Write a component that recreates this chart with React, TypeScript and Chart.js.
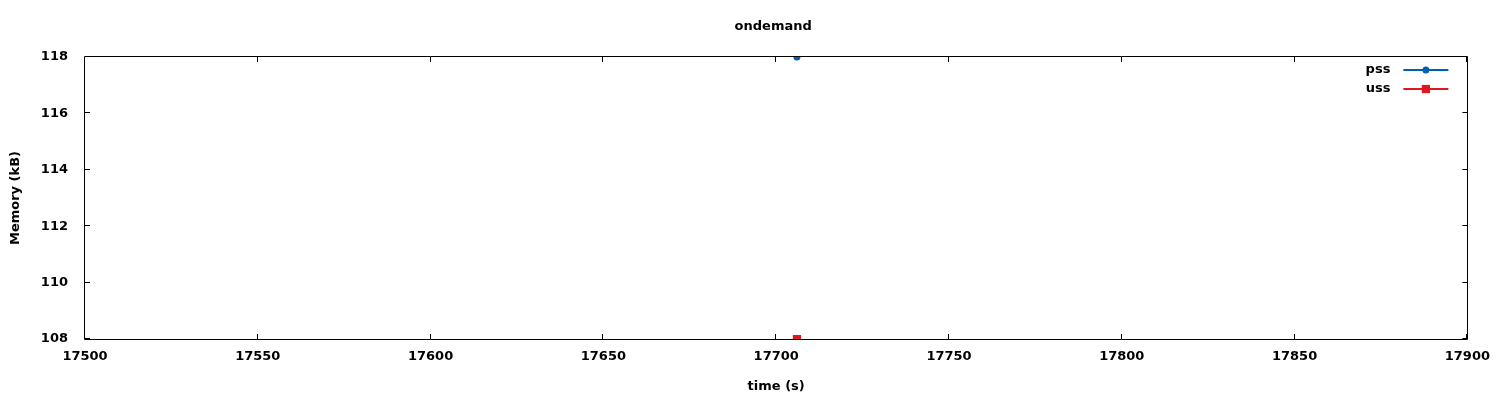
import React, { useEffect, useRef } from "react";
import { Chart, registerables } from "chart.js";

Chart.register(...registerables);

const chartTitle = "ondemand";
const xAxisTitle = "time (s)";
const yAxisTitle = "Memory (kB)";

const times = [17706];
const pssValues = [118];
const ussValues = [108];

const seriesLabels = ["pss", "uss"];
const seriesColors = ["#0060ad", "#dd181f"];
const seriesPointStyles = ["circle", "rect"];
const seriesPointRadius = [3.5, 5.8];

const xMin = 17500;
const xMax = 17900;
const xStep = 50;
const yMin = 108;
const yMax = 118;
const yStep = 2;

const FONT_FAMILY = "'DejaVu Sans', Verdana, sans-serif";
const FONT_SIZE = 13;

const framePlugin = {
  id: "gnuplotFrame",
  beforeDatasetsDraw(chart: any) {
    const { ctx, chartArea } = chart;
    const { left, right, top, bottom } = chartArea;
    const tick = 5;
    ctx.save();
    ctx.strokeStyle = "#000";
    ctx.lineWidth = 1;
    ctx.beginPath();
    ctx.rect(Math.round(left) - 0.5, Math.round(top) - 0.5, Math.round(right - left) + 1, Math.round(bottom - top) + 1);
    ctx.stroke();
    const xs = chart.scales.x;
    const ys = chart.scales.y;
    ctx.beginPath();
    xs.ticks.forEach((t: any) => {
      const px = Math.round(xs.getPixelForValue(t.value)) - 0.5;
      ctx.moveTo(px, bottom);
      ctx.lineTo(px, bottom - tick);
      ctx.moveTo(px, top);
      ctx.lineTo(px, top + tick);
    });
    ys.ticks.forEach((t: any) => {
      const py = Math.round(ys.getPixelForValue(t.value)) - 0.5;
      ctx.moveTo(left, py);
      ctx.lineTo(left + tick, py);
      ctx.moveTo(right, py);
      ctx.lineTo(right - tick, py);
    });
    ctx.stroke();
    ctx.restore();
  },
};

const titlePlugin = {
  id: "gnuplotTitle",
  afterDraw(chart: any) {
    const { ctx, chartArea } = chart;
    ctx.save();
    ctx.fillStyle = "#000";
    ctx.font = `bold ${FONT_SIZE}px ${FONT_FAMILY}`;
    ctx.textAlign = "center";
    ctx.textBaseline = "middle";
    ctx.fillText(chartTitle, (chartArea.left + chartArea.right) / 2 - 3, 27);
    ctx.restore();
  },
};

const legendPlugin = {
  id: "gnuplotLegend",
  afterDraw(chart: any) {
    const { ctx, chartArea } = chart;
    ctx.save();
    chart.data.datasets.forEach((ds: any, i: number) => {
      const y = Math.round(chartArea.top + 13 + i * 19);
      const textRight = chartArea.right - 77;
      const lineStart = chartArea.right - 64;
      const lineEnd = chartArea.right - 19;
      ctx.fillStyle = "#000";
      ctx.font = `bold ${FONT_SIZE}px ${FONT_FAMILY}`;
      ctx.textAlign = "right";
      ctx.textBaseline = "middle";
      ctx.fillText(ds.label, textRight, y);
      ctx.strokeStyle = ds.borderColor;
      ctx.lineWidth = 2;
      ctx.beginPath();
      ctx.moveTo(lineStart, y);
      ctx.lineTo(lineEnd, y);
      ctx.stroke();
      const cx = (lineStart + lineEnd) / 2;
      ctx.fillStyle = ds.backgroundColor;
      if (ds.pointStyle === "rect") {
        const s = ds.pointRadius * Math.SQRT1_2;
        ctx.fillRect(cx - s, y - s, 2 * s, 2 * s);
      } else {
        ctx.beginPath();
        ctx.arc(cx, y, ds.pointRadius, 0, Math.PI * 2);
        ctx.fill();
      }
    });
    ctx.restore();
  },
};

export default function App() {
  const canvasRef = useRef<HTMLCanvasElement | null>(null);

  useEffect(() => {
    document.body.style.margin = "0";
    const canvas = canvasRef.current;
    if (!canvas) return;
    const series = [pssValues, ussValues];
    const datasets = series.map((vals, i) => ({
      label: seriesLabels[i],
      data: times.map((t, j) => ({ x: t, y: vals[j] })),
      borderColor: seriesColors[i],
      backgroundColor: seriesColors[i],
      borderWidth: 2,
      pointStyle: seriesPointStyles[i],
      pointRadius: seriesPointRadius[i],
      pointBorderWidth: 0,
      showLine: true,
    }));
    const font = { family: FONT_FAMILY, size: FONT_SIZE, weight: "bold" as const };
    const chart = new Chart(canvas, {
      type: "line",
      data: { datasets },
      plugins: [framePlugin, titlePlugin, legendPlugin],
      options: {
        animation: false,
        responsive: false,
        devicePixelRatio: 1,
        layout: { padding: { left: 0, right: 32, top: 57, bottom: 0 } },
        plugins: {
          legend: { display: false },
          tooltip: { enabled: false },
          title: { display: false },
        },
        scales: {
          x: {
            type: "linear",
            min: xMin,
            max: xMax,
            grid: { display: false, drawTicks: false },
            border: { display: false },
            ticks: {
              stepSize: xStep,
              autoSkip: false,
              maxRotation: 0,
              color: "#000",
              font,
              padding: 10,
              callback: (v: any) => String(v),
            },
            title: {
              display: true,
              text: xAxisTitle,
              color: "#000",
              font,
              padding: { top: 0, bottom: 5.5 },
            },
            afterFit: (s: any) => {
              s.height = 61;
            },
          },
          y: {
            type: "linear",
            min: yMin,
            max: yMax,
            grid: { display: false, drawTicks: false },
            border: { display: false },
            ticks: {
              stepSize: yStep,
              autoSkip: false,
              color: "#000",
              font,
              padding: 17,
              callback: (v: any) => String(v),
            },
            title: {
              display: true,
              text: yAxisTitle,
              color: "#000",
              font,
              padding: { top: 7.5, bottom: 0 },
            },
            afterFit: (s: any) => {
              s.width = 85;
            },
          },
        },
      },
    });
    return () => chart.destroy();
  }, []);

  return (
    <div style={{ width: 1500, height: 400, background: "#fff" }}>
      <canvas ref={canvasRef} width={1500} height={400} />
    </div>
  );
}
